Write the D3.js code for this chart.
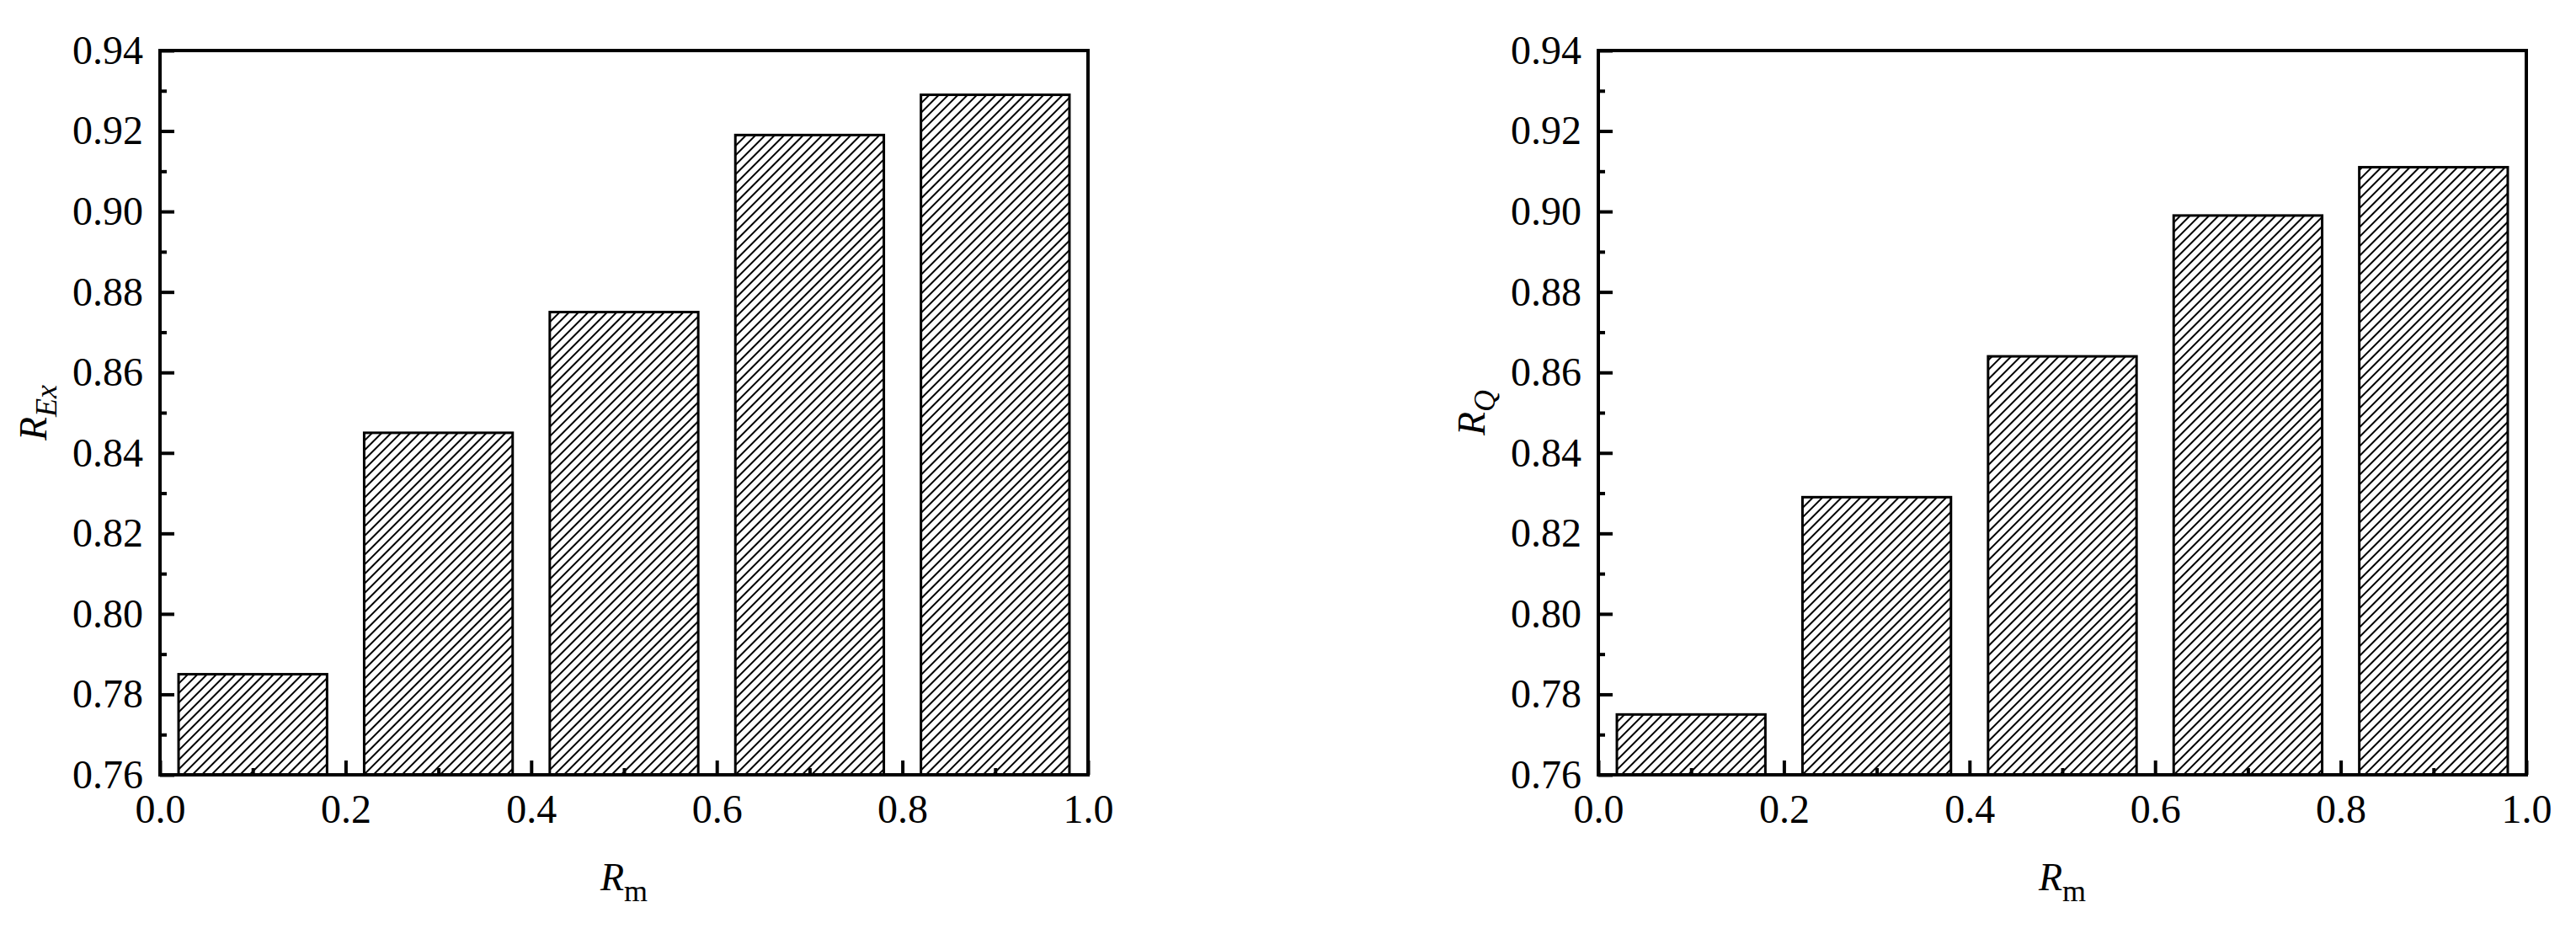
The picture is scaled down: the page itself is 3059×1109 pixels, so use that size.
<!DOCTYPE html>
<html>
<head>
<meta charset="utf-8">
<script src="https://cdn.jsdelivr.net/npm/d3@7"></script>
<style>
  body { margin: 0; background: #fff; }
  svg text { font-family: "Liberation Serif", "Times New Roman", serif !important; }
</style>
</head>
<body>
<div id="chart"></div>
<script>
// data
const rmCenters = [0.1, 0.3, 0.5, 0.7, 0.9];
const rEx = [0.785, 0.845, 0.875, 0.919, 0.929];
const rQ = [0.775, 0.829, 0.864, 0.899, 0.911];
const xTicks = [0.0, 0.2, 0.4, 0.6, 0.8, 1.0];
const xMinor = [0.1, 0.3, 0.5, 0.7, 0.9];
const yTicks = [0.76, 0.78, 0.80, 0.82, 0.84, 0.86, 0.88, 0.90, 0.92, 0.94];
const yMinor = [0.77, 0.79, 0.81, 0.83, 0.85, 0.87, 0.89, 0.91, 0.93];
const barWidth = 0.16;

const serif = '"Liberation Serif", "Times New Roman", serif';

function init() {
    const width = 3059, height = 1109;

    const svg = d3.select("#chart")
        .append("svg")
        .attr("width", width)
        .attr("height", height);

    svg.append("rect").attr("width", width).attr("height", height).attr("fill", "#fff");

    // diagonal hatch fill
    svg.append("defs").append("pattern")
        .attr("id", "hatch")
        .attr("patternUnits", "userSpaceOnUse")
        .attr("width", 8)
        .attr("height", 8)
        .attr("patternTransform", "rotate(45)")
        .append("line")
        .attr("x1", 4).attr("y1", 0)
        .attr("x2", 4).attr("y2", 8)
        .attr("stroke", "#000")
        .attr("stroke-width", 2);

    drawPanel(svg, rEx, "Ex", 190, 1292);
    drawPanel(svg, rQ, "Q", 1898, 3000);
}

function drawPanel(svg, values, sub, x0, x1) {
    const top = 60, bottom = 920;
    const x = d3.scaleLinear().domain([0, 1]).range([x0, x1]);
    const y = d3.scaleLinear().domain([0.76, 0.94]).range([bottom, top]);

    const g = svg.append("g").style("font-family", serif);

    // bars
    g.selectAll("rect.bar")
        .data(values)
        .enter()
        .append("rect")
        .attr("class", "bar")
        .attr("x", (d, i) => x(rmCenters[i] - barWidth / 2))
        .attr("width", (d, i) => x(rmCenters[i] + barWidth / 2) - x(rmCenters[i] - barWidth / 2))
        .attr("y", d => y(d))
        .attr("height", d => y(0.76) - y(d))
        .attr("fill", "url(#hatch)")
        .attr("stroke", "#000")
        .attr("stroke-width", 3);

    // axes
    const xAxis = g.append("g")
        .attr("transform", `translate(0,${bottom})`)
        .call(d3.axisBottom(x).tickValues(xTicks).tickFormat(d3.format(".1f"))
            .tickSizeInner(-17).tickSizeOuter(0).tickPadding(23));
    const xMinorAxis = g.append("g")
        .attr("transform", `translate(0,${bottom})`)
        .call(d3.axisBottom(x).tickValues(xMinor).tickFormat("").tickSizeInner(-8).tickSizeOuter(0));

    const yAxis = g.append("g")
        .attr("transform", `translate(${x0},0)`)
        .call(d3.axisLeft(y).tickValues(yTicks).tickFormat(d3.format(".2f"))
            .tickSizeInner(-17).tickSizeOuter(0).tickPadding(20));
    const yMinorAxis = g.append("g")
        .attr("transform", `translate(${x0},0)`)
        .call(d3.axisLeft(y).tickValues(yMinor).tickFormat("").tickSizeInner(-8).tickSizeOuter(0));

    [xAxis, xMinorAxis, yAxis, yMinorAxis].forEach(a => {
        a.attr("font-family", null).style("font-family", serif);
        a.select(".domain").remove();
        a.selectAll("line").attr("stroke", "#000").attr("stroke-width", 4);
        a.selectAll("text").attr("font-size", 48).attr("fill", "#000")
            .style("font-family", serif);
    });

    // frame
    g.append("rect")
        .attr("x", x0).attr("y", top)
        .attr("width", x1 - x0).attr("height", bottom - top)
        .attr("fill", "none")
        .attr("stroke", "#000")
        .attr("stroke-width", 4);

    // x title
    const xt = g.append("text")
        .attr("x", (x0 + x1) / 2)
        .attr("y", 1057)
        .attr("text-anchor", "middle")
        .attr("font-size", 46);
    xt.append("tspan").attr("font-style", "italic").text("R");
    xt.append("tspan").attr("font-size", 36).attr("dy", 13).text("m");

    // y title
    const yt = g.append("text")
        .attr("transform", `translate(${x0 - 135},${(top + bottom) / 2}) rotate(-90)`)
        .attr("text-anchor", "middle")
        .attr("font-size", 46);
    yt.append("tspan").attr("font-style", "italic").text("R");
    yt.append("tspan").attr("font-style", "italic").attr("font-size", 36).attr("dy", 12).text(sub);
}

window.onload = init;
</script>
</body>
</html>
